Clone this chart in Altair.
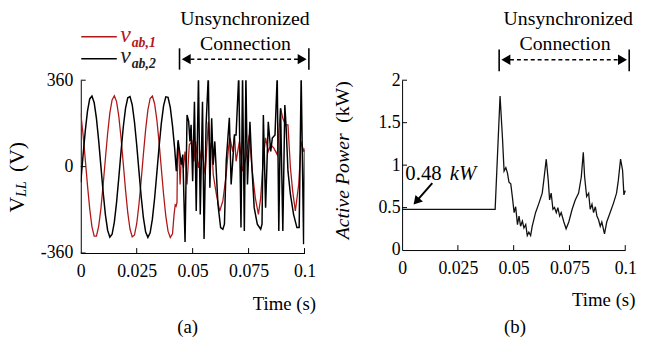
import altair as alt
import pandas as pd

# ---------------- data ----------------
# panel (a): line voltages, time in ms
red_t = [0, 1, 2, 3, 4, 5, 6, 7, 8, 9, 10, 11, 12, 13, 14, 15, 16, 17, 18, 19, 20,
         21, 22, 23, 24, 25, 26, 27, 28, 29, 30, 31, 32, 33, 34, 35, 36, 37, 38, 39, 40, 41,
         41.7, 42.2, 42.6, 43.0, 43.3, 43.8, 44.4, 44.9, 45.9, 46.6, 47.5, 48.5, 49.7,
         50.6, 51.3, 52.6, 54.1, 55.6, 57.0, 57.7, 58.5, 59.2, 60.6, 62.1, 63.5, 65.0,
         66.0, 66.7, 67.9, 68.7, 69.4, 70.9, 72.3, 73.8, 75.3, 76.5, 78.0, 79.4, 80.4,
         81.6, 82.6, 83.8, 84.9, 86.3, 87.8, 89.3, 90.3, 91.5, 92.6, 93.7, 94.7, 95.9,
         97.4, 98.5, 99.6, 100.0]
red_v = [222, 136, 31, -78, -176, -251, -290, -290, -249, -175, -76, 33, 138, 224, 278,
         295, 271, 209, 119, 12, -97, -192, -260, -293, -285, -238, -158, -57, 53, 155,
         236, 284, 294, 262, 195, 100, -8, -115, -206, -269, -295, -280,
         -199, -160, -165, -150, 100, 62, -74, 37, -5, 63, -74, 91, 105,
         22, 105, -5, 77, -33, 187, 63, 105, -33, -116, -185, -143, -33,
         77, 120, 62, 132, 22, 105, -19, 36, 132, -5, -130, -199, -130,
         36, 120, 63, 91, 77, 50, 243, 201, 174, 174, -5, -102, -185,
         -74, 105, 63, 77]

black_t = [0, 1, 2, 3, 4, 5, 6, 7, 8, 9, 10, 11, 12, 13, 14, 15, 16, 17, 18, 19, 20,
           21, 22, 23, 24, 25, 26, 27, 28, 29, 30, 31, 32, 33, 34, 35, 36, 37, 38, 39,
           40, 41, 42,
           42.7, 43.5, 44.2, 44.9, 45.6, 46.6, 47.5, 48.2, 48.8, 49.3,
           50.0, 50.8, 51.6, 52.6, 53.4, 54.4, 55.1, 56.0, 57.0, 57.7,
           58.5, 59.2, 59.9, 61.3, 62.5, 63.5, 64.2, 65.0, 66.4, 67.2,
           67.9, 68.7, 69.4, 70.6, 71.6, 72.3, 73.1, 73.8, 74.5, 75.6,
           76.5, 77.5, 78.9, 80.4, 81.0, 81.6, 82.6, 83.8, 84.9, 85.6,
           86.8, 87.8, 88.5, 89.3, 90.3, 91.2, 91.8, 92.6, 93.7, 95.1,
           96.6, 97.6, 98.5, 99.6, 100.0]
black_v = [-65, 45, 148, 231, 282, 294, 266, 201, 108, 1, -107, -200, -265, -294, -282,
           -231, -149, -46, 64, 165, 243, 287, 292, 257, 186, 90, -19, -125, -214, -273,
           -295, -276, -219, -132, -26, 83, 180, 253, 291, 289, 247, 170, 71,
           -19, 110, 60, 8, 50, -314, 215, 190, 105, 174,
           -61, 270, -185, 380, -199, 270, -302, 174, 380, -88,
           201, 8, 105, -157, -254, -261, -240, 22, 203, -74,
           22, 132, 132, 380, -254, 380, -268, 380, -74, 187,
           -5, -171, -240, -261, -240, 215, -171, 187, 63, 119,
           132, 380, -268, 243, -268, 257, 160, -19, -116, -199,
           -254, -254, 380, -323, 70]

# panel (b): active power (kW), time in ms
power_t = [0, 41.7, 43.9, 45.0, 45.7, 46.5, 47.2, 47.9, 48.7, 49.4,
           50.2, 50.9, 51.7, 52.4, 53.1, 53.9, 54.6, 55.4, 56.1, 56.8,
           57.6, 58.3, 59.8, 61.3, 62.8, 63.5, 64.6, 65.5, 66.1, 66.8,
           67.6, 68.3, 69.1, 69.8, 70.6, 71.3, 72.5, 73.5, 74.7, 76.2,
           77.6, 79.1, 80.3, 81.2, 81.8, 82.7, 83.6, 84.3, 85.1, 85.8,
           86.6, 87.3, 88.0, 88.8, 89.5, 90.7, 91.7, 93.2, 94.7, 96.1,
           96.9, 97.9, 98.8, 99.4, 100.0]
power_p = [0.48, 0.48, 1.815, 1.31, 0.93, 0.97, 0.91, 0.80, 0.78, 0.63,
           0.44, 0.51, 0.30, 0.40, 0.28, 0.34, 0.26, 0.30, 0.17, 0.21,
           0.17, 0.28, 0.44, 0.55, 0.67, 0.82, 1.07, 0.82, 0.59, 0.67,
           0.48, 0.50, 0.44, 0.50, 0.40, 0.44, 0.33, 0.25, 0.33, 0.48,
           0.59, 0.67, 0.86, 1.15, 0.86, 0.63, 0.67, 0.48, 0.54, 0.44,
           0.51, 0.40, 0.36, 0.28, 0.33, 0.19, 0.33, 0.44, 0.55, 0.67,
           0.82, 1.07, 0.94, 0.65, 0.70]

x_tick_values = [0, 25, 50, 75, 100]
x_tick_labels = ["0", "0.025", "0.05", "0.075", "0.1"]
v_tick_values = [-360, 0, 360]
v_tick_labels = ["-360", "0", "360"]
p_tick_values = [0, 0.5, 1, 1.5, 2]
p_tick_labels = ["0", "0.5", "1", "1.5", "2"]

# ---------------- styling ----------------
FONT = "Liberation Serif"
RED = "#b01818"
W1, H1 = 226.6, 175
W2, H2 = 226.0, 172

red_df = pd.DataFrame({"t": red_t, "v": red_v})
black_df = pd.DataFrame({"t": black_t, "v": black_v})
power_df = pd.DataFrame({"t": power_t, "p": power_p})
xt_df = pd.DataFrame({"t": x_tick_values[1:]})
vt_df = pd.DataFrame({"v": v_tick_values})
pt_df = pd.DataFrame({"p": p_tick_values[1:]})
one = pd.DataFrame({"k": [0]})


def lab_expr(values, labels):
    return f"{labels}[indexof({values}, datum.value)]"


def make_axis(values, labels, pad, flush=False):
    return alt.Axis(values=values, labelExpr=lab_expr(values, labels), title=None,
                    ticks=False, grid=False, domain=True, domainColor="black",
                    domainWidth=1, labelFont=FONT, labelFontSize=18, labelColor="black",
                    labelPadding=pad, labelFlush=flush, labelOverlap=False)


X_AXIS = make_axis(x_tick_values, x_tick_labels, 10)
V_AXIS = make_axis(v_tick_values, v_tick_labels, 8)
P_AXIS = make_axis(p_tick_values, p_tick_labels, 2)


def txt(x, y, text, size=20, style="normal", weight="normal", color="black",
        align="center", angle=0):
    return alt.Chart(one).mark_text(text=text, font=FONT, fontSize=size, fontStyle=style,
                                    fontWeight=weight, color=color, align=align,
                                    baseline="alphabetic", angle=angle).encode(
        x=alt.value(x), y=alt.value(y))


def seg(x1, y1, x2, y2, width=1.5, dash=None, color="black"):
    kw = dict(color=color, strokeWidth=width)
    if dash:
        kw["strokeDash"] = dash
    return alt.Chart(one).mark_rule(**kw).encode(
        x=alt.value(x1), y=alt.value(y1), x2=alt.value(x2), y2=alt.value(y2))


def tri(x, y, shape, size=110, angle=0):
    return alt.Chart(one).mark_point(shape=shape, size=size, filled=True, color="black",
                                     opacity=1, angle=angle).encode(
        x=alt.value(x), y=alt.value(y))


def span_arrow(left_bar, right_bar, ytop, ybot, ymid):
    h = 4.5
    return [
        seg(left_bar, ytop, left_bar, ybot, width=1.6),
        seg(right_bar, ytop, right_bar, ybot, width=1.6),
        seg(left_bar + 11, ymid, right_bar - 11, ymid, width=1.6, dash=[4, 3]),
        tri(left_bar + 2.3 + h, ymid, "triangle-left"),
        tri(right_bar - 2.3 - h, ymid, "triangle-right"),
    ]


# ---------------- panel (a) ----------------
xs1 = alt.Scale(domain=[0, 100], nice=False, zero=False)
ys1 = alt.Scale(domain=[-360, 360], nice=False, zero=False)

red_line = alt.Chart(red_df).mark_line(color=RED, strokeWidth=1.3, clip=True).encode(
    x=alt.X("t:Q", scale=xs1, axis=X_AXIS),
    y=alt.Y("v:Q", scale=ys1, axis=V_AXIS))
black_line = alt.Chart(black_df).mark_line(color="black", strokeWidth=1.5, clip=True).encode(
    x=alt.X("t:Q", scale=xs1, axis=X_AXIS), y=alt.Y("v:Q", scale=ys1, axis=V_AXIS))
xt1 = alt.Chart(xt_df).mark_rule(color="black", strokeWidth=1).encode(
    x=alt.X("t:Q", scale=xs1, axis=X_AXIS), y=alt.value(H1), y2=alt.value(H1 - 5))
yt1 = alt.Chart(vt_df).mark_rule(color="black", strokeWidth=1).encode(
    y=alt.Y("v:Q", scale=ys1, axis=V_AXIS), x=alt.value(0), x2=alt.value(5))

left_layers = [red_line, black_line, xt1, yt1,
               # legend
               seg(0.5, -44, 36.5, -44, width=1.3, color=RED),
               seg(0.5, -21.7, 36.5, -21.7, width=1.5),
               txt(40, -39, "v", size=24, style="italic", color=RED, align="left"),
               txt(51.5, -34, "ab,1", size=14, style="italic", weight="bold", color=RED, align="left"),
               txt(40, -17, "v", size=24, style="italic", color="#222222", align="left"),
               txt(51.5, -12, "ab,2", size=14, style="italic", weight="bold", color="#222222", align="left"),
               # annotation
               txt(166.3, -55.7, "Unsynchronized"),
               txt(166.8, -31, "Connection"),
               *span_arrow(100, 231, -32.3, -10.7, -21.3),
               # y title
               txt(-58, 134, "V", size=22, angle=270, align="left"),
               txt(-55, 118, "LL", size=14, style="italic", angle=270, align="left"),
               txt(-58, 93, "(V)", size=22, angle=270, align="left"),
               # x title and caption
               txt(238.3, 232.7, "Time (s)", size=19, align="right"),
               txt(108.3, 256, "(a)", size=19),
               ]
left = alt.layer(*left_layers).properties(width=W1, height=H1)

# ---------------- panel (b) ----------------
xs2 = alt.Scale(domain=[0, 100], nice=False, zero=False)
ys2 = alt.Scale(domain=[0, 2], nice=False)

p_line = alt.Chart(power_df).mark_line(color="#111111", strokeWidth=1.3).encode(
    x=alt.X("t:Q", scale=xs2, axis=X_AXIS),
    y=alt.Y("p:Q", scale=ys2, axis=P_AXIS))
xt2 = alt.Chart(xt_df).mark_rule(color="black", strokeWidth=1).encode(
    x=alt.X("t:Q", scale=xs2, axis=X_AXIS), y=alt.value(H2), y2=alt.value(H2 - 5))
yt2 = alt.Chart(pt_df).mark_rule(color="black", strokeWidth=1).encode(
    y=alt.Y("p:Q", scale=ys2, axis=P_AXIS), x=alt.value(0), x2=alt.value(5))

right_layers = [p_line, xt2, yt2,
                txt(168.3, -56, "Unsynchronized"),
                txt(165, -30.7, "Connection"),
                *span_arrow(98.3, 230, -31, -9, -20.7),
                txt(-53.7, 161, "Active Power", size=20, style="italic", angle=270, align="left"),
                txt(-53.7, 1, "(kW)", size=20, angle=270, align="right"),
                txt(3.3, 101, "0.48", size=21, align="left"),
                txt(48.3, 101, "kW", size=21, style="italic", align="left"),
                seg(30.6, 104.3, 16, 121, width=2),
                tri(14.5, 122.7, "triangle-up", size=100, angle=221),
                txt(236.3, 229, "Time (s)", size=19, align="right"),
                txt(114.3, 256, "(b)", size=19),
                ]
right = alt.layer(*right_layers).properties(width=W2, height=H2)

chart = alt.hconcat(left, right, spacing=98.4, bounds="flush").properties(
    autosize=alt.AutoSizeParams(type="none"),
    padding={"left": 73.7, "top": 71, "right": 563.3, "bottom": 264},
).configure_view(stroke=None).configure_axis(labelFont=FONT).configure_text(font=FONT)

chart.save("out.html", embed_options={"renderer": "svg", "actions": False})
